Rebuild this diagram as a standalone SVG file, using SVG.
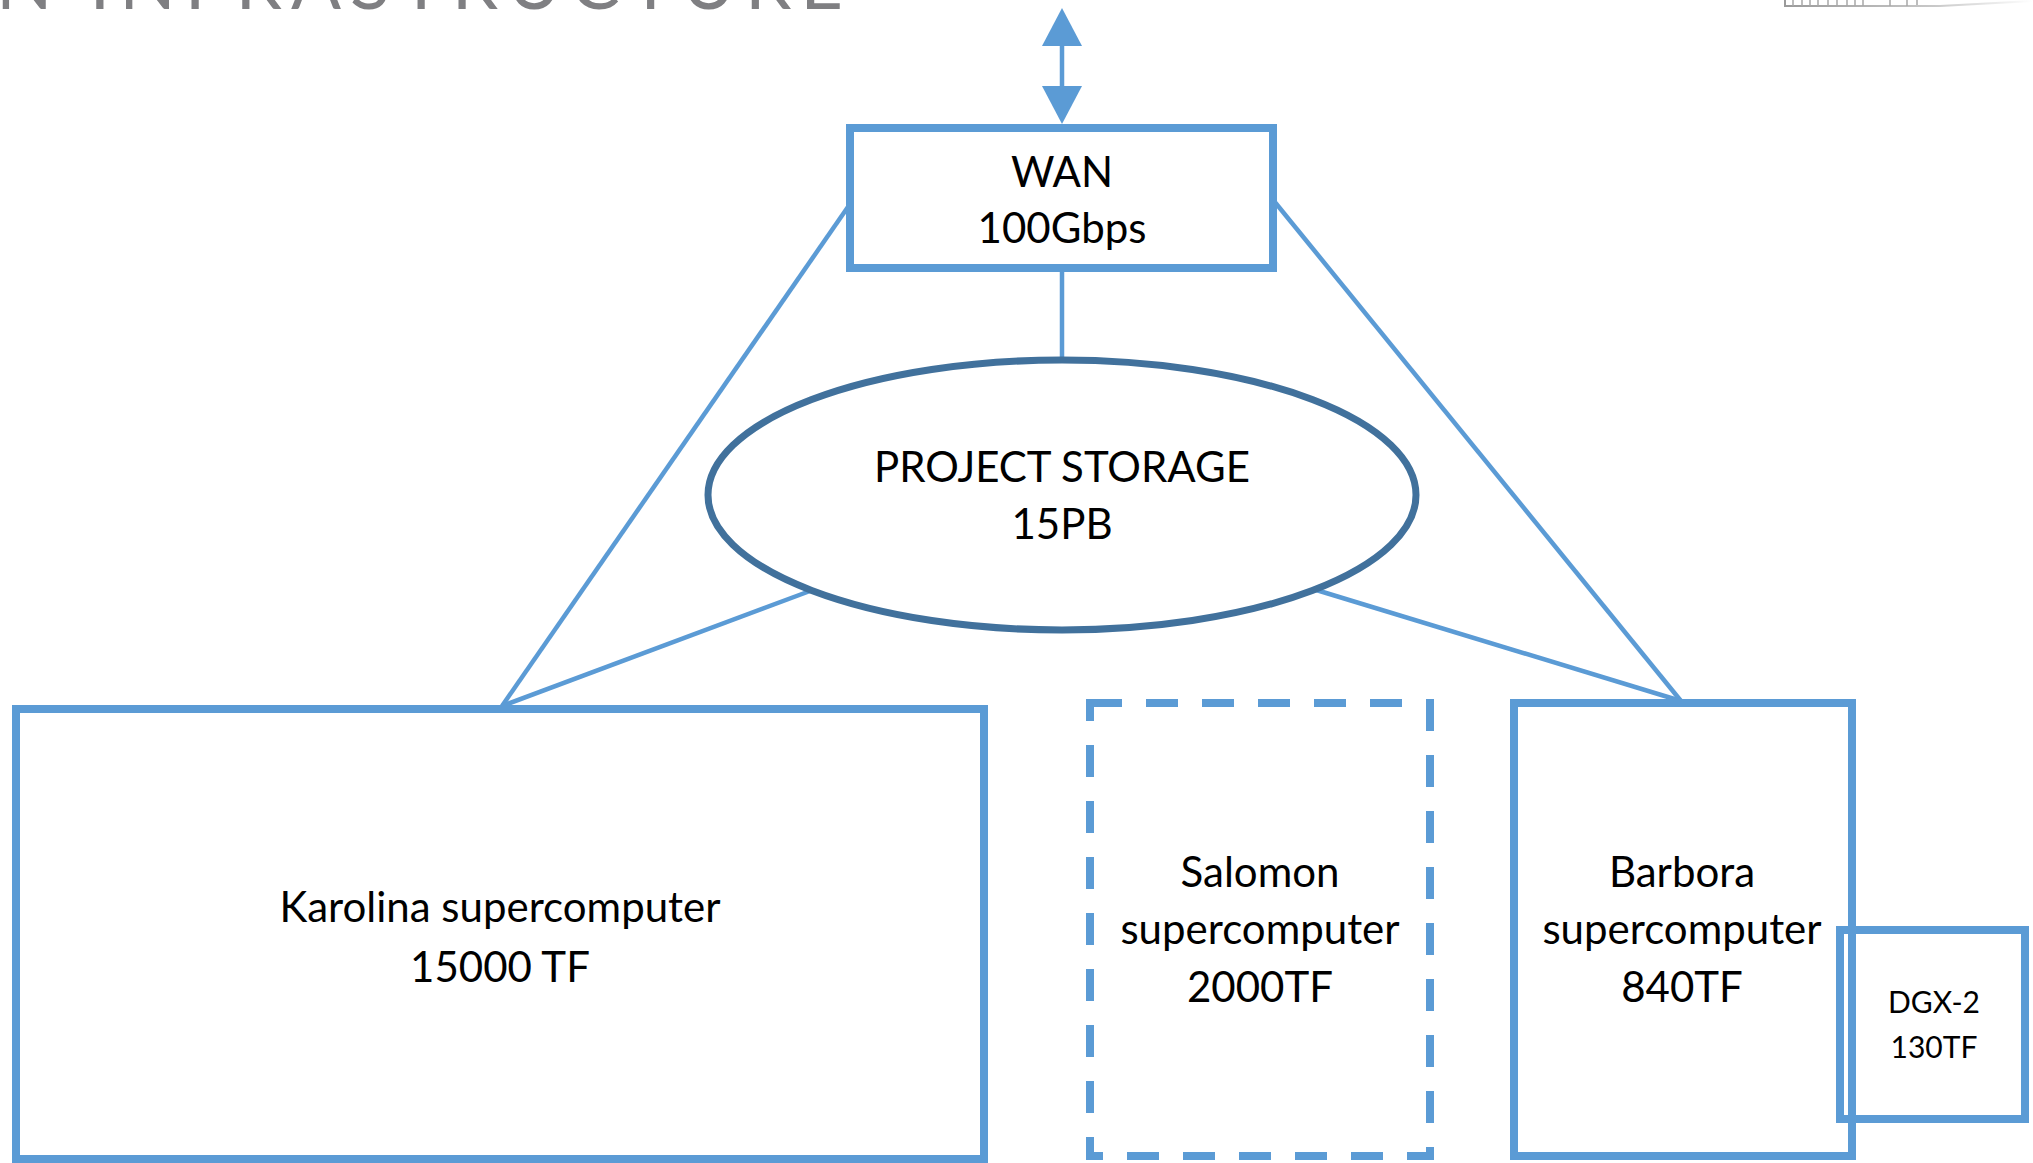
<svg xmlns="http://www.w3.org/2000/svg" width="2033" height="1163" viewBox="0 0 2033 1163">
  <defs>
    <style>
      .box { fill: none; stroke: #5B9BD5; stroke-width: 8; }
      .dash { stroke-dasharray: 32 24; }
      .storage { fill: #FFFFFF; stroke: #41719C; stroke-width: 7; }
      .link { stroke: #5B9BD5; stroke-width: 4.5; fill: none; }
      .lbl { font-family: Lato, "Open Sans", "Liberation Sans", sans-serif; font-size: 42px; fill: #000000; text-anchor: middle; }
      .small { font-size: 30px; }
      .title { font-family: Lato, "Liberation Sans", sans-serif; font-size: 74px; fill: #7F7F82; }
    </style>
    <marker id="head" viewBox="0 0 38 40" refX="1" refY="20" markerWidth="38" markerHeight="40" markerUnits="userSpaceOnUse" orient="auto-start-reverse">
      <path d="M0,0 L38,20 L0,40 z" fill="#5B9BD5"/>
    </marker>
    <linearGradient id="fade" x1="0" y1="0" x2="1" y2="0">
      <stop offset="0" stop-color="#9A9A9A"/>
      <stop offset="0.6" stop-color="#C8C8C8"/>
      <stop offset="1" stop-color="#FFFFFF"/>
    </linearGradient>
  </defs>

  <rect x="0" y="0" width="2033" height="1163" fill="#FFFFFF"/>

  <!-- cropped title and header graphic -->
  <g id="header">
    <text class="title" x="-4" y="9" textLength="847" lengthAdjust="spacing">N INFRASTRUCTURE</text>
    <g id="header-graphic" stroke="#A8A8A8" stroke-width="1.5" fill="none">
      <path d="M1785,0 V6 H1940 L2033,1" stroke="url(#fade)" stroke-width="2"/>
      <path d="M1793,0 V6 M1802,0 V6 M1810,0 V6 M1818,0 V6 M1828,0 V6 M1837,0 V6 M1847,0 V6 M1855,0 V6 M1863,0 V6 M1890,0 V6 M1907,0 V6 M1917,0 V5"/>
    </g>
  </g>

  <!-- connectors -->
  <g id="connectors">
    <line class="link" x1="1062" y1="45" x2="1062" y2="87" stroke-width="7" marker-start="url(#head)" marker-end="url(#head)"/>
    <line class="link" x1="1062" y1="272" x2="1062" y2="360"/>
    <line class="link" x1="850" y1="204" x2="502" y2="706"/>
    <line class="link" x1="810" y1="591" x2="502" y2="706"/>
    <line class="link" x1="1274" y1="201" x2="1681" y2="701"/>
    <line class="link" x1="1313" y1="589" x2="1681" y2="701"/>
  </g>

  <g id="wan">
    <rect class="box" x="850" y="128" width="423" height="140" fill="#FFFFFF"/>
    <text class="lbl" x="1062" y="187">WAN</text>
    <text class="lbl" x="1062" y="243">100Gbps</text>
  </g>

  <g id="project-storage">
    <ellipse class="storage" cx="1062" cy="495" rx="354" ry="135"/>
    <text class="lbl" x="1062" y="482">PROJECT STORAGE</text>
    <text class="lbl" x="1062" y="539">15PB</text>
  </g>

  <g id="karolina">
    <rect class="box" x="16" y="709" width="968" height="450"/>
    <text class="lbl" x="500" y="922">Karolina supercomputer</text>
    <text class="lbl" x="500" y="982">15000 TF</text>
  </g>

  <g id="salomon">
    <rect class="box dash" x="1090" y="703" width="340" height="453"/>
    <text class="lbl" x="1260" y="887">Salomon</text>
    <text class="lbl" x="1260" y="944">supercomputer</text>
    <text class="lbl" x="1260" y="1002">2000TF</text>
  </g>

  <g id="barbora">
    <rect class="box" x="1514" y="703" width="338" height="453"/>
    <text class="lbl" x="1682" y="887">Barbora</text>
    <text class="lbl" x="1682" y="944">supercomputer</text>
    <text class="lbl" x="1682" y="1002">840TF</text>
  </g>

  <g id="dgx2">
    <rect class="box" x="1840" y="930" width="185" height="189"/>
    <text class="lbl small" x="1934" y="1013">DGX-2</text>
    <text class="lbl small" x="1934" y="1058">130TF</text>
  </g>
</svg>
